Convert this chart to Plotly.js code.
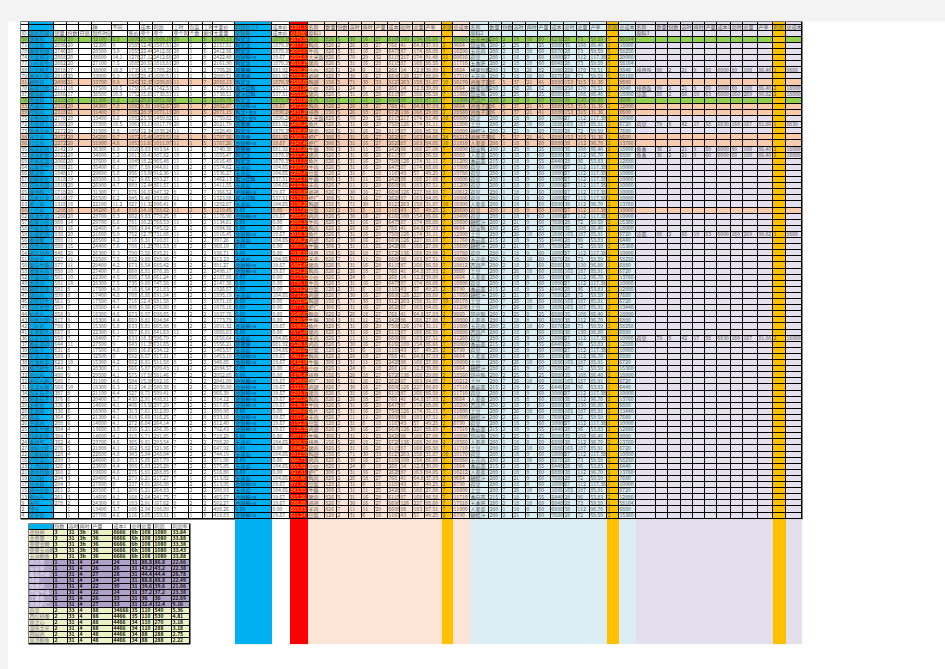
<!DOCTYPE html>
<html><head><meta charset="utf-8">
<script src="https://cdn.plot.ly/plotly-3.0.1.min.js"></script>
<style>html,body{margin:0;padding:0;background:#fff;}#chart{width:945px;height:669px;}</style>
</head><body><div id="chart"></div>
<script>
const S = s => s.trim().split(/\s+/).map(v => v === '-' ? '' : v);

// ---------- main sheet data (79 rows) ----------
const ids = S(`80 71 78 74 77 88 79 81 70 87 76 83 89 75 72 73 84 86 85 82
69 64 66 67 68 65 61 63 60 62 57 58 59 56 55 54 51 50 53 52
49 48 47 46 45 44 43 42 41 36 37 39 40 38 30 33 32 31 34 35
29 28 26 20 25 18 24 27 22 16 23 21 19 17 15 13 9 2 4`);
const names = S(`酒香鸭 红烧鱼 香酥鸡翅 大盘鸡汁 小炒黄牛 红烧狮子 香煎豆腐 糖醋排 麻婆豆腐 酸辣粉
鸭血粉 青椒肉 回锅肉 水煮肉片 宫保鸡丁 鱼香肉丝 辣子鸡 红烧肉 梅菜扣肉 清蒸鲈鱼
干锅花菜 蒜蓉西兰 酸菜鱼 剁椒鱼头 可乐鸡翅 啤酒鸭 手撕包菜 地三鲜 土豆丝 蚝油生菜
农家小炒 干煸豆角 尖椒肥肠 香辣蟹 孜然羊肉 椒盐排骨 黄焖鸡 番茄牛腩 葱爆羊肉 京酱肉丝
木须肉 糖醋里脊 锅包肉 老醋花生 凉拌木耳 拍黄瓜 皮蛋豆腐 口水鸡 夫妻肺片 蒜泥白肉
香菇滑鸡 烧茄子 干锅土豆 红油抄手 酸汤肥牛 金针菇 番茄炒蛋 韭菜炒蛋 肉末茄子 鱼香茄子
水煮鱼 毛血旺 冒菜 干锅鸡 铁板牛柳 铁板鱿鱼 香辣虾 油焖大虾 蒜蓉粉丝 白灼菜心
上汤娃娃 清炒时蔬 炒河粉 炒米粉 扬州炒饭 蛋炒饭 米饭 馒头 紫米饭`);
const sales = S(`2862 2896 2746 2868 2862 2818 2816 2498 2111 2866 2318 2318 2318 2776 2360 2272 2072 2272 2142 2022
2066 1988 1848 1818 1810 1718 1618 1318 1298 1266 980 930 938 880 880 846 827 877 880 581
581 581 899 561 559 858 817 788 687 550 644 631 588 623 644 480 580 568 387 376
336 336 364 288 384 384 352 276 328 280 326 360 294 284 261 261 278 - -`);
const portions = S(`20 20 20 20 20 17 20 21 18 17 19 20 21 20 20 20 20 20 19 20
20 21 17 19 20 20 17 18 16 20 14 16 20 11 15 20 11 11 10 10
10 8 8 9 7 9 9 8 9 7 11 8 9 10 8 9 7 10 8 6
6 6 5 6 4 7 4 5 4 3 3 2 3 3 2 3 2 1 1`);
const daily = [];
const makeTime = S(`32100 32300 28500 38600 27100 38000 33000 33700 37500 38500 31300 34300 31400 33400 37800 31500 24200 31900 36300 34600
37600 35400 29600 28500 26900 31300 25500 22100 34200 28700 29700 32400 21600 28500 24400 26300 22500 29400 27400 22300
28300 17500 17400 17500 18500 18300 15300 15300 22300 18400 27500 17500 32500 15300 28300 29500 31100 18300 21100 20400
14600 16900 21300 14600 13600 14600 23700 21800 22600 24600 23600 19600 29400 27600 29500 14600 24300 13400 27700`);
const ratio = S(`8.9 9 3.9 14.1 7.5 10.8 5.9 8.9 10.5 10.9 8.2 7.8 8.7 8.6 10.5 8.8 9.7 4.6 6.9 7.2
8.4 6.1 5.8 9.3 4.7 7.1 6.2 11.2 5.4 8.3 6.6 7.4 5.9 4.2 7.6 6.3 7.5 4.2 7.6 4.5
7.5 4.9 4.8 4.7 4.4 4.6 4.4 5.8 6.1 7.7 9 4.6 8 4.2 7.1 4.1 4.6 6.3 4.4 5.7
4.1 4.7 4.1 4.1 3.8 4.1 4.6 4.1 4.8 6.9 4.4 4.6 4.1 8 7.1 4.1 6.8 3.7 4.6`);
const price = S(`1605 1585 1555 1276 1685 1739 1582 1242 1759 1752 1282 1082 1082 1882 1061 1050 1072 1053 1020 1013
1045 987 956 927 889 876 845 827 816 802 781 766 752 716 708 790 652 673 660 686
735 716 708 716 486 673 669 633 567 633 643 608 592 602 566 575 584 612 527 430
406 313 418 272 356 318 305 362 343 353 308 276 279 237 208 168 183 106 116`);
const unitA = S(`25.90 12.49 22.44 27.12 20.57 18.72 28.47 32.35 15.47 15.69 20.63 9.31 28.95 23.56 33.11 12.34 15.46 11.63 8.83 10.41
18.22 7.59 13.08 9.65 12.44 16.07 8.46 11.32 14.16 9.83 10.27 9.64 12.75 8.31 11.25 7.58 9.80 8.54 8.81 7.58
9.80 8.54 8.86 12.43 9.56 8.97 8.81 8.81 6.81 18.31 11.35 16.67 8.57 6.81 5.87 17.58 15.98 14.19 8.71 2.91
13.50 7.61 6.60 6.64 5.21 5.71 9.81 5.82 5.84 5.85 5.83 5.91 6.21 4.81 5.21 2.64 2.91 2.94 3.05`);
const unitB = S(`1609.10 1587.51 2412.86 2412.68 1818.81 1705.28 1600.51 1209.69 1742.53 1738.51 1051.92 1082.67 1071.13 1459.82 1017.79 1038.24 1023.51 1011.97 993.54 987.82
965.48 944.61 912.36 893.27 861.57 847.32 833.80 806.41 788.62 779.25 768.53 745.82 731.06 710.87 701.53 695.21 688.86 685.42 676.38 661.24
747.58 721.83 691.84 681.58 676.60 698.65 694.84 665.98 641.63 596.79 631.65 534.12 517.31 511.58 509.43 501.46 592.16 580.38 509.41 498.81
297.29 312.89 316.25 264.14 266.35 291.85 293.54 321.96 248.04 287.79 225.28 268.85 217.27 266.98 264.83 241.75 167.62 186.09 159.31`);
const unitHours = S(`20 20 20 20 20 11 11 11 18 11 8 20 20 11 20 11 18 11 11 18
11 18 11 11 11 8 11 8 11 8 11 8 11 11 8 8 7 8 8 8
8 7 8 7 8 8 7 8 11 7 8 7 7 8 11 7 7 8 7 8
7 7 7 7 8 7 7 7 7 7 7 8 7 7 7 7 8 7 1`);
const pieces = S(`1 1 1 1 1 1 1 1 1 1 2 1 1 1 1 1 1 1 2 1
1 2 1 2 1 2 1 1 2 1 1 2 2 2 2 2 1 2 2 2
2 2 2 1 2 2 1 2 1 2 2 2 2 2 2 2 2 2 1 2
2 2 1 2 2 1 2 2 2 2 2 2 1 2 2 1 2 1 1`);
const rest = S(`8 5 6 8 6 2 1 7 8 6 2 7 5 7 8 7 8 5 7 6
7 8 2 7 5 7 5 8 5 2 2 8 5 2 8 2 2 2 2 8
2 2 3 8 2 2 2 2 7 2 2 2 8 2 2 2 2 8 2 2
2 2 8 2 2 8 2 2 2 2 2 2 8 2 2 8 2 2 8`);
const mainAmt = S(`2608.13 2157.51 2412.56 2422.48 2161.90 1705.28 2080.51 2058.13 1756.53 1738.51 2180.78 2082.67 2071.15 1759.82 2021.79 1828.49 1797.56 1767.26 1740.38 1655.47
1616.40 1574.62 1536.27 1462.13 1411.55 1366.52 1323.86 1292.67 1219.45 1176.90 1134.61 1084.56 1016.45 997.26 968.19 936.71 912.23 891.27 2498.17 2187.88
2147.38 1926.57 1895.19 1871.18 1878.18 1837.78 1773.79 1691.32 1668.63 1658.64 1556.21 1463.57 1453.19 946.85 2084.57 2052.85 2041.09 2038.80 966.39 914.12
917.65 880.98 833.16 812.40 792.43 718.20 708.20 647.92 744.19 571.98 575.85 516.80 513.82 513.95 508.93 465.57 502.27 498.26 418.83`);
const packTag = S(`鸭掌沈 鸭掌沈 鸭掌沈 金财神+a 鸭掌沈 鼎聚熊 鼎聚熊 鸭掌沈 蜜汁烧鸭 蜜汁烧鸭 鸭掌沈 金财神+a 鸭沈+金a 鸭沈+金a 鼎聚熊 鸭掌沈 鼎聚熊 金财神+a 鼎聚熊 鸭掌沈
鸭掌沈 五谷瓜 五谷瓜 蜜汁烧鸭 五谷瓜 金财神+a 蜜汁烧鸭 五谷瓜 0.00 金财神+a 0.00 0.00 金财神+a 五谷瓜 0.00 0.00 五谷瓜 金财神+a 金财神+a 0.00
0.00 0.00 五谷瓜 0.00 0.00 0.00 0.00 金财神+a 0.00 五谷瓜 鼎聚熊 五谷瓜 金财神+a 金财神+a 0.00 0.00 金财神+a 金财神+a 金财神+a 金财神+a
金财神+a 0.00 金财神+a 金财神+a 金财神+a 0.00 五谷瓜 0.00 五谷瓜 0.00 五谷瓜 0.00 五谷瓜 金财神+a 五谷瓜 金财神+a 金财神+a 0.00 金财神+a`);
const tagNames = S(`鸭掌沈 金财神+a 鼎聚熊 蜜汁烧鸭 0.00 五谷瓜 鸭沈+金a`);
const tagCosts = S(`1870.35 19.67 681.92 537.51 0.00 104.65 1890.24`);
const profit = S(`2679.88 2617.80 2602.81 2582.81 2618.28 2598.20 2582.20 2580.00 2561.04 2553.84 2510.99 2472.92 2431.20 2415.03 2408.24 2396.89 2368.79 2347.46 2338.80 2327.20
2311.81 2305.60 2289.47 2252.19 2232.78 2198.45 2174.80 2150.28 2117.65 2085.66 2062.31 2035.23 2018.39 1998.27 1963.47 1936.58 1910.05 1862.45 1841.28 1823.52
1795.11 1763.29 1731.67 1702.94 1677.31 1649.87 1620.52 1598.05 1571.46 1543.89 1520.31 1492.67 1461.22 1432.96 1405.73 1376.41 1349.03 1321.58 1293.37 1265.84
1238.12 1209.63 1181.45 1152.87 1125.38 1097.66 1068.97 1040.28 1012.50 984.73 955.92 927.81 899.40 871.90 843.55 815.26 786.88 669.83 611.24`);
// row highlight: G green, O orange, - none
const rowMark = S(`G - - - - - - O - - G O O - - - O O - - - - - - - - - - O - - - - - - - - - - -
- - - - - - - - - - - - - - - - - - - - - - - - - - - - - - - - - - - - - - -`);

// ingredient blocks (lookup tables) and per-row picks
const matANames = S(`鸡肉 鸭肉 牛肉 大米饭 猪肉 小炒 鸡翅 鸭翅 羊肉 排骨 鱼片 虾仁 牛腩 豆腐`);
const matAStats = [`826 5 30 16 27 6160 100 154 86.66`,`826 2 26 18 27 768 41 64.8 37.93`,`826 5 31 16 29 6475 87 174 88.08`,
`826 5 70 29 32 6115 217 174 91.48`,`826 5 31 16 28 6115 87 168 86.58`,`826 1 24 0 18 268 14 12.8 39.09`,
`826 7 30 16 27 6690 126 227 88.60`,`156 5 71 30 33 8127 263 158 31.87`,`826 7 11 11 29 6608 98 183 87.51`,
`156 5 26 18 27 6720 136 168 29.08`,`826 5 31 16 29 7508 126 174 31.11`,`306 5 31 16 27 2628 87 163 84.05`,
`306 3 31 11 25 2426 86 168 27.08`,`128 2 31 6 18 1187 43 57 49.25`].map(S);
const rowMatA = S(`鸡肉 鸭肉 牛肉 大米饭 猪肉 小炒 鸡翅 鸭翅 小炒 猪肉 羊肉 鸭肉 排骨 大米饭 鱼片 猪肉 虾仁 虾仁 牛腩 猪肉
鱼片 牛肉 豆腐 牛腩 羊肉 鸡翅 虾仁 鸭翅 豆腐 鸡肉 牛肉 鸭肉 鱼片 鸡翅 牛腩 排骨 羊肉 猪肉 鸭肉 小炒
牛肉 豆腐 鸡翅 鸭翅 虾仁 鸭肉 牛腩 鱼片 猪肉 羊肉 鸡肉 豆腐 鸭肉 牛腩 小炒 排骨 虾仁 鸡翅 猪肉 鸭肉
牛肉 鱼片 羊肉 豆腐 鸡翅 牛腩 排骨 猪肉 鸭翅 鸡肉 小炒 虾仁 鸭肉 豆腐 牛腩 猪肉 鸡翅 羊肉 豆腐`);
const rowProfitA = S(`7 2 7 11 7 1 7 10 1 7 7 2 2 10 7 7 24 10 7 7
7 7 2 7 7 7 7 10 2 7 7 2 7 7 7 2 7 7 2 1
7 2 7 10 7 2 7 7 7 7 7 2 2 7 1 2 7 7 7 2
7 7 7 2 7 7 2 7 10 7 1 7 2 2 7 7 7 7 2`);
const rowCostA = S(`80860 9664 10290 60616 11710 1664 17510 10170 1664 11860 11000 9664 18560 60600 11800 10800 58212 11810 10800 9860
11200 17800 19780 10800 11200 10612 10900 16800 20600 18400 10600 9664 12800 11760 18600 19780 10600 10812 9860 1664
10800 6790 17650 10170 11200 9660 10800 11000 10800 11260 80860 6790 9664 10800 1664 18560 10212 17510 11710 9664
10290 11800 11000 6790 17510 10800 18560 11710 10170 80860 1664 10212 9664 6790 10800 11710 17510 11000 6790`);

const matBNames = S(`云南米线 甜皮鸭 五花肉 荷草 五香肝 蜂蜜包鸭 鸡蛋子面 西葫芦 土豆 糖醋汁 人参茶 香菇面`);
const matBStats = [`280 2 18 10 60 6238 28 73 59.59`,`280 2 25 8 25 6080 35 108 86.40`,`280 2 18 10 60 6870 28 73 59.59`,
`280 1 18 9 60 10000 27 112 117.38`,`280 2 18 10 60 6048 28 73 59.59`,`280 3 58 26 82 1980 250 170 78.51`,
`86 5 37 21 41 6880 153 315 31.36`,`280 2 18 9 60 6880 38 130 96.80`,`280 7 26 10 60 1686 165 187 85.91`,
`280 2 21 9 60 7680 28 72 59.59`,`280 1 18 8 60 6880 38 112 96.70`,`215 2 18 9 55 6440 28 96 53.83`].map(S);
const rowMatB = S(`云南米线 甜皮鸭 五花肉 荷草 五香肝 蜂蜜包鸭 五花肉 鸡蛋子面 蜂蜜包鸭 甜皮鸭 西葫芦 鸡蛋子面 鸡蛋子面 荷草 土豆 糖醋汁 鸡蛋子面 人参茶 甜皮鸭 人参茶
香菇面 荷草 荷草 荷草 荷草 荷草 荷草 人参茶 荷草 荷草 糖醋汁 甜皮鸭 土豆 香菇面 糖醋汁 荷草 五花肉 西葫芦 土豆 人参茶
荷草 香菇面 糖醋汁 土豆 土豆 甜皮鸭 人参茶 五花肉 西葫芦 荷草 香菇面 荷草 人参茶 土豆 糖醋汁 甜皮鸭 土豆 香菇面 荷草 人参茶
西葫芦 土豆 糖醋汁 荷草 香菇面 甜皮鸭 人参茶 土豆 荷草 五花肉 香菇面 人参茶 糖醋汁 荷草 土豆 香菇面 五香肝 人参茶 糖醋汁`);
const rowProfitB = S(`5 2 5 2 5 2 5 1 2 2 1 2 1 1 2 1 1 2 2 1
1 1 1 1 1 1 1 2 1 1 2 2 1 1 2 1 2 1 1 2
1 2 1 1 2 2 1 2 1 1 2 1 1 1 2 2 1 1 1 2
1 2 1 1 2 1 2 1 1 2 1 2 1 1 1 2 1 1 2`);
const rowCostB = S(`58164 18000 58250 20000 58164 9840 58160 8600 9840 18000 8800 12000 8600 10000 6720 7680 8600 13760 18000 6880
12880 10000 10000 10000 10000 10000 10000 13760 10000 10000 15360 18000 6720 6440 15360 10000 58250 6880 6720 13760
10000 12880 7680 6720 13440 18000 6880 58250 6880 10000 12880 10000 6880 6720 15360 18000 6720 6440 10000 13760
6880 13440 7680 10000 12880 9000 13760 6720 10000 58250 6440 13760 7680 10000 6720 12880 58164 6880 15360`);

const matCNames = S(`排骨饭 凉面 荷草 鱼香`);
const matCStats = [`90 2 21 9 60 6000 80 108 86.40`,`88 2 66 19 63 6000 160 269 90.82`,
`79 8 42 17 58 6830 160 167 81.00`,`36 2 21 9 60 6000 80 108 86.40`].map(S);
const rowsWithC = [5, 8, 9, 14, 18, 19, 32, 49];
const rowMatC = S(`排骨饭 排骨饭 凉面 荷草 鱼香 鱼香 凉面 荷草`);
const rowProfitC = S(`1 2 2 1 2 2 1 2`);
const rowCostC = S(`9860 18000 18000 8830 18000 18000 9860 18000`);

// header texts
const headTop = ['', '', '', '', '', '种', '不同', '', '成本', '利润', '工时', '包装', '工时', '主要价', '利润后工1', '成本价', '2301.11'];
const headSub = ['ID', '菜名区域', '销量', '份数', '日销', '制作时间', '', '售价', '单个', '单个', '单个利', '个数', '剩余', '主要量', '全财神', '成本价', '总利润'];
const blockHead = S(`名称 数量 份数 容时 再时 产量 成本1 总时 总量 产率 利润 总成本`);
const blockSub = S(`原料1 原料2 原料3`);

// ---------- small summary table (19 rows) ----------
const smHead = S(`- 份数 容时 再时 产量 成本1 总时 总量 利润 利润率`);
const smNames = S(`金财神 金鼎聚 鼎聚金鲤 鼎聚五谷鲍 五谷鲍鱼 鸡肉煲 五彩粥 番茄青椒 排骨 咖喱鸡 黑椒牛排 丁香鱼 滑蛋虾仁 荷草 西红柿蛋 黄之心 湖南之光 田园鸡 高汤鲍鱼`);
const smGroup = S(`Y Y Y Y Y P P P P P P P P Y Y Y Y Y Y`);
const smFen = S(`3 3 3 3 3 1 1 1 1 1 1 1 1 2 2 2 2 2 2`);
const smRong = S(`31 31 31 31 31 31 31 31 31 31 31 31 31 33 33 31 31 31 31`);
const smZai = S(`3h 3h 3h 3h 3h 4 4 4 4 4 4 4 4 4 4 4 4 4 4`);
const smChan = S(`36 36 36 36 36 24 26 27 24 22 22 26 27 88 88 88 88 48 48`);
const smCost = S(`6666 6666 6666 6666 6666 24 26 28 24 30 24 33 33 34666 4466 4466 4466 4466 4466`);
const smTotT = S(`6h 6h 6h 6h 6h 31 31 31 31 31 31 31 31 35 35 34 34 34 34`);
const smTotQ = S(`108 108 108 108 108 86.8 43.2 44.4 88.8 39.6 37.2 36 32.4 110 110 110 110 88 88`);
const smProfit = S(`1080 1080 1080 1080 1080 86.8 43.2 44.4 88.8 39.6 37.2 36 32.4 540 530 270 288 288 288`);
const smRate = S(`33.84 33.88 33.38 33.43 33.88 22.66 22.38 26.78 22.49 21.66 23.38 22.69 9.16 5.36 4.81 3.18 3.18 2.75 2.22`);

// ---------- layout geometry ----------
const colEdges = [21,29,54,67,79,92,112,128,140,153,173,189,203,213,235,272,290,308,
  325,337,349,362,375,388,400,413,425,442,453,470,489,502,513,526,538,551,564,577,590,607,619,636,
  656,668,681,693,705,717,731,743,758,773,786,802];
const colKinds = ('wbwwwwwwwwwwww' + 'bwr' + 'pppppppppp' + 'gp' + 'llllllllll' + 'gl' + 'vvvvvvvvvv' + 'gv').split('');
const NR = ids.length;
const rowH = 6.1;
const rowEdges = [22, 25, 30.5, 36.7];
for (let i = 1; i <= NR; i++) rowEdges.push(36.7 + i * rowH);
const bandBottom = 644;
const smX = [29,54,68,79,92,113,131,141,154,172,190];
const smY = [524];
for (let i = 1; i <= smNames.length + 1; i++) smY.push(524 + i * 6);

const palette = {w:'#FFFFFF', b:'#00B0F0', r:'#FF0000', p:'#FCE4D6', g:'#FFC000', l:'#DAEEF3', v:'#E4DFEC',
  G:'#92D050', O:'#F8CBAD', Y:'#EBF1C2', P:'#B1A0C7', k:'#000000'};
const kindList = Object.keys(palette);
const K = kindList.length;
const cscale = [];
kindList.forEach((k, i) => { cscale.push([i / K, palette[k]]); cscale.push([(i + 1) / K, palette[k]]); });
const code = k => kindList.indexOf(k);
const hm = (x, y, z, gap) => ({type:'heatmap', x, y, z, colorscale:cscale, zmin:-0.5, zmax:K-0.5,
  showscale:false, hoverinfo:'skip', xgap:gap, ygap:gap, zsmooth:false});

// main grid colours
const zMain = [];
for (let r = 0; r < NR + 3; r++) {
  const row = [];
  const mark = r >= 3 ? rowMark[r - 3] : '';
  for (let c = 0; c < colKinds.length; c++) {
    let k = colKinds[c];
    if (mark && 'wplv'.includes(k)) k = mark;
    row.push(code(k));
  }
  zMain.push(row);
}
const zBand = [colKinds.slice(14).map(code)];
const zSmall = [];
zSmall.push(smHead.map((h, c) => code(c === 0 ? 'b' : 'w')));
smGroup.forEach(g => zSmall.push(smHead.map(() => code(g))));

// ---------- text ----------
const groups = {dark:'#555555', name:'#3d5a78', red:'#FFC000', navy:'#22356a', bold:'#111111', pname:'#7a6a96', lname:'#efeaf6'};
const T = {};
Object.keys(groups).forEach(g => T[g] = {x:[], y:[], t:[]});
function put(g, xe, ye, c, r, s) {
  if (s === undefined || s === null || s === '') return;
  T[g].x.push(xe[c] + 0.6);
  T[g].y.push((ye[r] + ye[r + 1]) / 2);
  T[g].t.push(String(s));
}
// headers
headTop.forEach((s, c) => put(c === 16 ? 'red' : 'dark', colEdges, rowEdges, c, 1, s));
headSub.forEach((s, c) => put(c === 16 ? 'red' : 'dark', colEdges, rowEdges, c, 2, s));
[17, 29, 41].forEach((start, b) => {
  blockHead.forEach((s, j) => put('dark', colEdges, rowEdges, start + j, 1, s));
  put('dark', colEdges, rowEdges, start, 2, blockSub[b]);
});
// body
const leftCols = [ids, names, sales, portions, daily, makeTime, ratio, price, unitA, unitB, unitHours, pieces, rest, mainAmt];
for (let i = 0; i < NR; i++) {
  const r = i + 3;
  leftCols.forEach((arr, c) => put(c === 1 ? 'name' : 'dark', colEdges, rowEdges, c, r, arr[i]));
  put('navy', colEdges, rowEdges, 14, r, packTag[i]);
  put('dark', colEdges, rowEdges, 15, r, tagCosts[tagNames.indexOf(packTag[i])]);
  put('red', colEdges, rowEdges, 16, r, profit[i]);
  const a = matAStats[matANames.indexOf(rowMatA[i])] || [];
  put('dark', colEdges, rowEdges, 17, r, rowMatA[i]);
  a.forEach((v, j) => put('dark', colEdges, rowEdges, 18 + j, r, v));
  put('dark', colEdges, rowEdges, 27, r, rowProfitA[i]);
  put('dark', colEdges, rowEdges, 28, r, rowCostA[i]);
  const b = matBStats[matBNames.indexOf(rowMatB[i])] || [];
  put('dark', colEdges, rowEdges, 29, r, rowMatB[i]);
  b.forEach((v, j) => put('dark', colEdges, rowEdges, 30 + j, r, v));
  put('dark', colEdges, rowEdges, 39, r, rowProfitB[i]);
  put('dark', colEdges, rowEdges, 40, r, rowCostB[i]);
}
rowsWithC.forEach((i, n) => {
  const r = i + 3;
  const cst = matCStats[matCNames.indexOf(rowMatC[n])] || [];
  put('dark', colEdges, rowEdges, 41, r, rowMatC[n]);
  cst.forEach((v, j) => put('dark', colEdges, rowEdges, 42 + j, r, v));
  put('dark', colEdges, rowEdges, 51, r, rowProfitC[n]);
  put('dark', colEdges, rowEdges, 52, r, rowCostC[n]);
});
// small table
smHead.forEach((s, c) => put('dark', smX, smY, c, 0, s));
const smCols = [smFen, smRong, smZai, smChan, smCost, smTotT, smTotQ, smProfit, smRate];
smNames.forEach((nm, i) => {
  put(smGroup[i] === 'P' ? 'lname' : 'pname', smX, smY, 0, i + 1, nm);
  smCols.forEach((arr, j) => put('bold', smX, smY, j + 1, i + 1, arr[i]));
});

const FONT = '"Noto Sans CJK SC", "DejaVu Sans", sans-serif';
const textTraces = Object.keys(groups).map(g => ({
  type:'scatter', mode:'text', x:T[g].x, y:T[g].y, text:T[g].t, textposition:'middle right',
  textfont:{family:FONT, size:5, color:groups[g], weight: g === 'bold' ? 'bold' : 'normal'},
  hoverinfo:'skip', cliponaxis:false
}));

const lastEdge = rowEdges[rowEdges.length - 1];
const traces = [
  hm([colEdges[0] - 0.5, colEdges[colEdges.length - 1] + 0.5], [rowEdges[0] - 0.5, lastEdge + 0.5], [[code('k')]], 0),
  hm(colEdges, rowEdges, zMain, 1),
  hm(colEdges.slice(14), [lastEdge + 0.5, bandBottom], zBand, 0),
  hm([smX[0] - 0.5, smX[smX.length - 1] + 0.5], [smY[0] - 0.5, smY[smY.length - 1] + 0.5], [[code('k')]], 0),
  hm(smX, smY, zSmall, 1),
  ...textTraces
];

const layout = {
  width:945, height:669, margin:{l:0, r:0, t:0, b:0, pad:0},
  paper_bgcolor:'#FFFFFF', plot_bgcolor:'#FFFFFF', showlegend:false,
  xaxis:{range:[0, 945], visible:false, fixedrange:true},
  yaxis:{range:[669, 0], visible:false, fixedrange:true},
  shapes:[
    {type:'rect', xref:'x', yref:'y', x0:0, x1:945, y0:0, y1:21.5, fillcolor:'#F3F3F3', line:{width:0}, layer:'below'},
    {type:'rect', xref:'x', yref:'y', x0:0, x1:8, y0:0, y1:669, fillcolor:'#F3F3F3', line:{width:0}, layer:'below'}
  ]
};
Plotly.newPlot('chart', traces, layout, {staticPlot:true, displayModeBar:false});
</script></body></html>
